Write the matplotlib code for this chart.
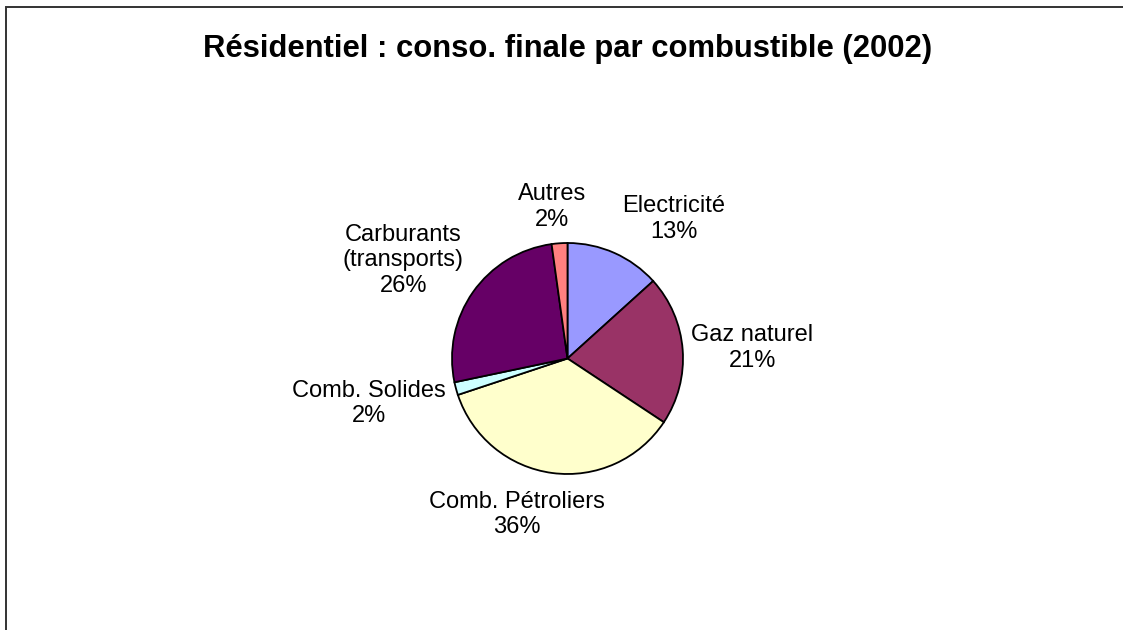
import matplotlib
matplotlib.use("Agg")
import matplotlib.pyplot as plt
from matplotlib.patches import Rectangle

plt.rcParams['font.family'] = ['Liberation Sans', 'DejaVu Sans']

# donnees (part en %)
noms = ['Electricité', 'Gaz naturel', 'Comb. Pétroliers', 'Comb. Solides',
        'Carburants\n(transports)', 'Autres']
parts = [13.3, 21.0, 35.6, 1.8, 26.1, 2.2]
couleurs = ['#9999FF', '#993366', '#FFFFCC', '#CCFFFF', '#660066', '#FF8080']

# position des etiquettes (en rayons, par rapport au centre)
decalages = [(0.92, 1.21), (1.60, 0.09), (-0.44, -1.35),
             (-1.72, -0.39), (-1.42, 0.85), (-0.13, 1.31)]

W, H = 1123, 630
fig = plt.figure(figsize=(W / 100, H / 100), dpi=100)
ax = fig.add_axes([0, 0, 1, 1])

cx, cy, r = 567.5, 271.5, 115.5
ax.pie(parts, colors=couleurs, startangle=90, counterclock=False,
       center=(cx, cy), radius=r,
       wedgeprops={'edgecolor': 'black', 'linewidth': 1.3})

total = sum(parts)
for nom, v, (dx, dy) in zip(noms, parts, decalages):
    txt = nom + '\n' + '%d%%' % round(100 * v / total)
    ax.text(cx + dx * r, cy + dy * r, txt, ha='center', va='center',
            multialignment='center', fontsize=17, linespacing=1.21)

ax.text(568, H - 57, 'Résidentiel : conso. finale par combustible (2002)',
        ha='center', va='baseline', fontsize=22.3, fontweight='bold')

# cadre du graphique
ax.add_patch(Rectangle((6, -20), W + 20, H - 7 + 20, fill=False,
                       edgecolor='#333333', linewidth=1.4, clip_on=False))

ax.set_xlim(0, W)
ax.set_ylim(0, H)
ax.set_aspect('equal')
ax.axis('off')

plt.savefig('out.png', dpi=100)
